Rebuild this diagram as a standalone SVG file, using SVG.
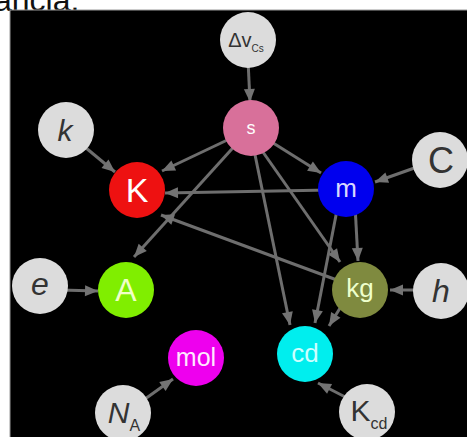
<svg xmlns="http://www.w3.org/2000/svg" width="467" height="437" viewBox="0 0 467 437">
<defs>
<marker id="arr" markerUnits="userSpaceOnUse" markerWidth="14" markerHeight="12" refX="13" refY="5.5" orient="auto" overflow="visible">
<path d="M0,0 L13,5.5 L0,11 z" fill="#737373"/>
</marker>
<style>
.e{stroke:#6e6e6e;stroke-width:3;fill:none;marker-end:url(#arr)}
.g{fill:#dcdcdc}
.t{font-family:"Liberation Sans","DejaVu Sans",sans-serif;text-anchor:middle}
.dk{fill:#333}
.it{font-style:italic}
</style>
</defs>
<rect x="0" y="0" width="467" height="437" fill="#ffffff"/>
<text x="-6" y="11" font-family="Liberation Sans, sans-serif" font-size="32" fill="#111">ancia.</text>
<rect x="10" y="10" width="460" height="430" fill="#000" stroke="#9a9a9a" stroke-width="1"/>
<g id="connectors">
<line class="e" x1="248" y1="60" x2="250" y2="102"/>
<line class="e" x1="80" y1="143" x2="115" y2="172"/>
<line class="e" x1="240" y1="134" x2="162" y2="171"/>
<line class="e" x1="262" y1="136" x2="321" y2="173"/>
<line class="e" x1="240" y1="140" x2="134" y2="257"/>
<line class="e" x1="258" y1="145" x2="340" y2="262"/>
<line class="e" x1="253" y1="145" x2="290" y2="325"/>
<line class="e" x1="420" y1="166" x2="375" y2="182"/>
<line class="e" x1="330" y1="190" x2="165" y2="193"/>
<line class="e" x1="355" y1="205" x2="358" y2="261"/>
<line class="e" x1="338" y1="205" x2="315" y2="323"/>
<line class="e" x1="345" y1="283" x2="161" y2="215"/>
<line class="e" x1="345" y1="300" x2="329" y2="326"/>
<line class="e" x1="425" y1="290" x2="390" y2="290"/>
<line class="e" x1="60" y1="290" x2="98" y2="291"/>
<line class="e" x1="138" y1="404" x2="173" y2="379"/>
<line class="e" x1="355" y1="402" x2="318" y2="383"/>
</g>
<g id="node-dv"><circle class="g" cx="248" cy="40" r="28"/><text class="t dk" x="246" y="47" font-size="20">Δv<tspan font-size="10" dy="5">Cs</tspan></text></g>
<g id="node-s"><circle cx="251" cy="128" r="28" fill="#d8709a"/><text class="t" x="251" y="134" font-size="18" fill="#fff">s</text></g>
<g id="node-k"><circle class="g" cx="66" cy="130" r="28"/><text class="t dk it" x="65" y="141" font-size="30">k</text></g>
<g id="node-K"><circle cx="137" cy="190" r="28" fill="#ee1111"/><text class="t" x="137" y="202" font-size="34" fill="#fff">K</text></g>
<g id="node-m"><circle cx="346" cy="189" r="28" fill="#0000ee"/><text class="t" x="346" y="197" font-size="26" fill="#d8d8ff">m</text></g>
<g id="node-C"><circle class="g" cx="440" cy="160" r="28"/><text class="t dk" x="441" y="173" font-size="36">C</text></g>
<g id="node-e"><circle class="g" cx="40" cy="286" r="28"/><text class="t dk it" x="40" y="295" font-size="32">e</text></g>
<g id="node-A"><circle cx="126" cy="290" r="28" fill="#80ee00"/><text class="t" x="126" y="301" font-size="32" fill="#f0ffc8">A</text></g>
<g id="node-kg"><circle cx="360" cy="290" r="28" fill="#7f8a3f"/><text class="t" x="360" y="297" font-size="26" fill="#eeffcc">kg</text></g>
<g id="node-h"><circle class="g" cx="441" cy="291" r="28"/><text class="t dk it" x="441" y="302" font-size="32">h</text></g>
<g id="node-mol"><circle cx="196" cy="358" r="28" fill="#ee00ee"/><text class="t" x="196" y="366" font-size="25" fill="#ffe8ff">mol</text></g>
<g id="node-cd"><circle cx="305" cy="354" r="28" fill="#00eeee"/><text class="t" x="305" y="362" font-size="26" fill="#ccffff">cd</text></g>
<g id="node-NA"><circle class="g" cx="123" cy="413" r="28"/><text class="t dk" x="124" y="423"><tspan class="it" font-size="30">N</tspan><tspan font-size="16" dy="8">A</tspan></text></g>
<g id="node-Kcd"><circle class="g" cx="367" cy="412" r="28"/><text class="t dk" x="369" y="421"><tspan font-size="30">K</tspan><tspan font-size="16" dy="8">cd</tspan></text></g>
</svg>
